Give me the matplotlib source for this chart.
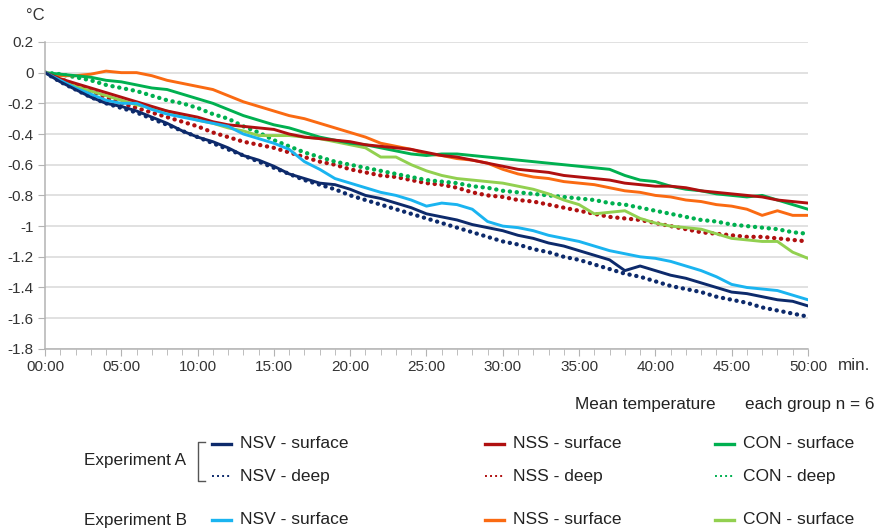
import matplotlib.pyplot as plt
from matplotlib.lines import Line2D

plt.rcParams['font.family'] = ['Liberation Sans', 'DejaVu Sans']

# minutes since start, one reading per minute
minutes = list(range(51))
x_tick_labels = ["00:00", "05:00", "10:00", "15:00", "20:00", "25:00",
                 "30:00", "35:00", "40:00", "45:00", "50:00"]

nsv_surface_a = [0, -0.06, -0.11, -0.16, -0.20, -0.22, -0.25, -0.29, -0.33, -0.38,
                 -0.42, -0.45, -0.49, -0.54, -0.57, -0.61, -0.66, -0.69, -0.72, -0.73,
                 -0.76, -0.80, -0.82, -0.85, -0.88, -0.92, -0.94, -0.96, -0.99, -1.01,
                 -1.03, -1.06, -1.08, -1.11, -1.13, -1.16, -1.19, -1.22, -1.29, -1.26,
                 -1.29, -1.32, -1.34, -1.37, -1.40, -1.43, -1.44, -1.46, -1.48, -1.49, -1.52]
nsv_deep_a = [0, -0.06, -0.11, -0.16, -0.20, -0.23, -0.26, -0.30, -0.34, -0.38,
              -0.42, -0.46, -0.50, -0.54, -0.58, -0.62, -0.66, -0.70, -0.73, -0.76,
              -0.80, -0.83, -0.86, -0.89, -0.92, -0.95, -0.98, -1.01, -1.04, -1.07,
              -1.10, -1.12, -1.15, -1.17, -1.20, -1.22, -1.25, -1.28, -1.31, -1.33,
              -1.36, -1.39, -1.41, -1.43, -1.46, -1.48, -1.50, -1.53, -1.55, -1.57, -1.59]
nss_surface_a = [0, -0.04, -0.07, -0.10, -0.13, -0.16, -0.19, -0.22, -0.25, -0.27,
                 -0.29, -0.32, -0.34, -0.35, -0.36, -0.37, -0.40, -0.42, -0.43, -0.44,
                 -0.45, -0.47, -0.48, -0.49, -0.50, -0.52, -0.54, -0.55, -0.57, -0.59,
                 -0.61, -0.63, -0.64, -0.65, -0.67, -0.68, -0.69, -0.70, -0.72, -0.73,
                 -0.74, -0.74, -0.75, -0.77, -0.78, -0.79, -0.80, -0.81, -0.83, -0.84, -0.85]
nss_deep_a = [0, -0.04, -0.08, -0.12, -0.16, -0.20, -0.23, -0.26, -0.29, -0.32,
              -0.35, -0.39, -0.42, -0.45, -0.47, -0.49, -0.52, -0.55, -0.58, -0.60,
              -0.63, -0.65, -0.67, -0.68, -0.70, -0.72, -0.73, -0.75, -0.78, -0.80,
              -0.81, -0.83, -0.84, -0.86, -0.88, -0.90, -0.92, -0.94, -0.95, -0.96,
              -0.98, -1.00, -1.02, -1.04, -1.05, -1.06, -1.07, -1.07, -1.08, -1.09, -1.10]
con_surface_a = [0, -0.01, -0.02, -0.03, -0.05, -0.06, -0.08, -0.10, -0.11, -0.14,
                 -0.17, -0.20, -0.24, -0.28, -0.31, -0.34, -0.36, -0.39, -0.42, -0.44,
                 -0.46, -0.47, -0.49, -0.51, -0.53, -0.54, -0.53, -0.53, -0.54, -0.55,
                 -0.56, -0.57, -0.58, -0.59, -0.60, -0.61, -0.62, -0.63, -0.67, -0.70,
                 -0.71, -0.74, -0.76, -0.77, -0.79, -0.80, -0.81, -0.80, -0.83, -0.86, -0.89]
con_deep_a = [0, -0.01, -0.03, -0.05, -0.08, -0.10, -0.12, -0.15, -0.18, -0.20,
              -0.23, -0.27, -0.30, -0.35, -0.39, -0.44, -0.48, -0.52, -0.55, -0.58,
              -0.60, -0.62, -0.64, -0.66, -0.68, -0.70, -0.71, -0.72, -0.74, -0.75,
              -0.77, -0.78, -0.79, -0.80, -0.81, -0.82, -0.83, -0.85, -0.86, -0.88,
              -0.90, -0.92, -0.94, -0.96, -0.97, -0.99, -1.00, -1.01, -1.02, -1.04, -1.05]
nsv_surface_b = [0, -0.05, -0.10, -0.14, -0.18, -0.20, -0.20, -0.24, -0.27, -0.29,
                 -0.31, -0.33, -0.35, -0.40, -0.43, -0.46, -0.50, -0.58, -0.63, -0.69,
                 -0.72, -0.75, -0.78, -0.80, -0.83, -0.87, -0.85, -0.86, -0.89, -0.97,
                 -1.00, -1.01, -1.03, -1.06, -1.08, -1.10, -1.13, -1.16, -1.18, -1.20,
                 -1.21, -1.23, -1.26, -1.29, -1.33, -1.38, -1.40, -1.41, -1.42, -1.45, -1.48]
nss_surface_b = [0, -0.02, -0.02, -0.01, 0.01, 0.0, 0.0, -0.02, -0.05, -0.07,
                 -0.09, -0.11, -0.15, -0.19, -0.22, -0.25, -0.28, -0.30, -0.33, -0.36,
                 -0.39, -0.42, -0.46, -0.48, -0.50, -0.53, -0.54, -0.56, -0.57, -0.59,
                 -0.63, -0.66, -0.68, -0.69, -0.71, -0.72, -0.73, -0.75, -0.77, -0.78,
                 -0.80, -0.81, -0.83, -0.84, -0.86, -0.87, -0.89, -0.93, -0.90, -0.93, -0.93]
con_surface_b = [0, -0.05, -0.09, -0.12, -0.15, -0.18, -0.21, -0.23, -0.25, -0.28,
                 -0.31, -0.33, -0.36, -0.38, -0.41, -0.41, -0.41, -0.42, -0.43, -0.45,
                 -0.47, -0.49, -0.55, -0.55, -0.60, -0.64, -0.67, -0.69, -0.70, -0.71,
                 -0.72, -0.74, -0.76, -0.79, -0.83, -0.86, -0.92, -0.91, -0.90, -0.95,
                 -0.98, -1.00, -1.01, -1.02, -1.05, -1.08, -1.09, -1.10, -1.10, -1.17, -1.21]

navy = '#0d2a6b'
dark_red = '#b01010'
green = '#00b050'
cyan = '#1ab4f0'
orange = '#fa6a12'
light_green = '#92d050'
dots = (0, (0.05, 1.55))

fig = plt.figure(figsize=(8.83, 5.31), dpi=100)
ax = fig.add_axes([0.051, 0.343, 0.864, 0.578])

# draw order: deep lines under the surface lines
l_nsv_d, = ax.plot(minutes, nsv_deep_a, color=navy, lw=3.1, linestyle=dots, dash_capstyle='round')
l_nss_d, = ax.plot(minutes, nss_deep_a, color=dark_red, lw=3.1, linestyle=dots, dash_capstyle='round')
l_con_d, = ax.plot(minutes, con_deep_a, color=green, lw=3.1, linestyle=dots, dash_capstyle='round')
l_con_b, = ax.plot(minutes, con_surface_b, color=light_green, lw=2.1)
l_nss_b, = ax.plot(minutes, nss_surface_b, color=orange, lw=2.1)
l_con_s, = ax.plot(minutes, con_surface_a, color=green, lw=2.1)
l_nss_s, = ax.plot(minutes, nss_surface_a, color=dark_red, lw=2.1)
l_nsv_b, = ax.plot(minutes, nsv_surface_b, color=cyan, lw=2.1)
l_nsv_s, = ax.plot(minutes, nsv_surface_a, color=navy, lw=2.1)

ax.set_xlim(0, 50)
ax.set_ylim(-1.8, 0.2)
ax.set_xticks(range(0, 51, 5))
ax.set_xticklabels(x_tick_labels)
ax.set_xticks(range(0, 51), minor=True)
y_ticks = [0.2, 0, -0.2, -0.4, -0.6, -0.8, -1, -1.2, -1.4, -1.6, -1.8]
ax.set_yticks(y_ticks)
ax.set_yticklabels(['0.2', '0', '-0.2', '-0.4', '-0.6', '-0.8', '-1', '-1.2', '-1.4', '-1.6', '-1.8'])
ax.tick_params(axis='both', labelsize=11, colors='#b3b3b3', labelcolor='#333333')
ax.tick_params(axis='x', which='major', length=5, pad=3)
ax.tick_params(axis='x', which='minor', length=4, color='#b3b3b3')
ax.tick_params(axis='y', length=5, pad=3)
ax.grid(axis='y', color='#d9d9d9', lw=1.1)
ax.set_axisbelow(True)
for side in ['top', 'right']:
    ax.spines[side].set_visible(False)
for side in ['left', 'bottom']:
    ax.spines[side].set_color('#b3b3b3')
    ax.spines[side].set_linewidth(1.1)

W, H = 883.0, 531.0
def fx(px):
    return px / W
def fy(py):
    return 1 - py / H

fig.text(fx(26), fy(16), '°C', fontsize=12, color='#333333', va='center')
fig.text(fx(838), fy(366), 'min.', fontsize=12.3, color='#333333', va='center')
fig.text(fx(575), fy(405), 'Mean temperature', fontsize=12.3, color='#222222', va='center')
fig.text(fx(745), fy(405), 'each group n = 6', fontsize=12.3, color='#222222', va='center')

fig.text(fx(84), fy(460), 'Experiment A', fontsize=12.3, color='#222222', va='center')
fig.text(fx(84), fy(520), 'Experiment B', fontsize=12.3, color='#222222', va='center')
fig.add_artist(Line2D([fx(205), fx(198), fx(198), fx(205)],
                      [fy(442), fy(442), fy(481), fy(481)],
                      transform=fig.transFigure, color='#555555', lw=1.0))

entries = [
    (l_nsv_s, 'NSV - surface', 212, 444),
    (l_nsv_d, 'NSV - deep', 212, 476),
    (l_nss_s, 'NSS - surface', 485, 444),
    (l_nss_d, 'NSS - deep', 485, 476),
    (l_con_s, 'CON - surface', 715, 444),
    (l_con_d, 'CON - deep', 715, 476),
    (l_nsv_b, 'NSV - surface', 212, 520),
    (l_nss_b, 'NSS - surface', 485, 520),
    (l_con_b, 'CON - surface', 715, 520),
]
for line, label, px, py in entries:
    deep = line.get_linestyle() != '-'
    fig.add_artist(Line2D([fx(px), fx(px + 19)], [fy(py), fy(py)],
                          transform=fig.transFigure, color=line.get_color(),
                          lw=1.4 if deep else 2.4,
                          linestyle=(0, (1, 1.6)) if deep else '-'))
    fig.text(fx(px + 28), fy(py), label, fontsize=12.5, color='#222222', va='center')

plt.savefig('out.png', dpi=100)
